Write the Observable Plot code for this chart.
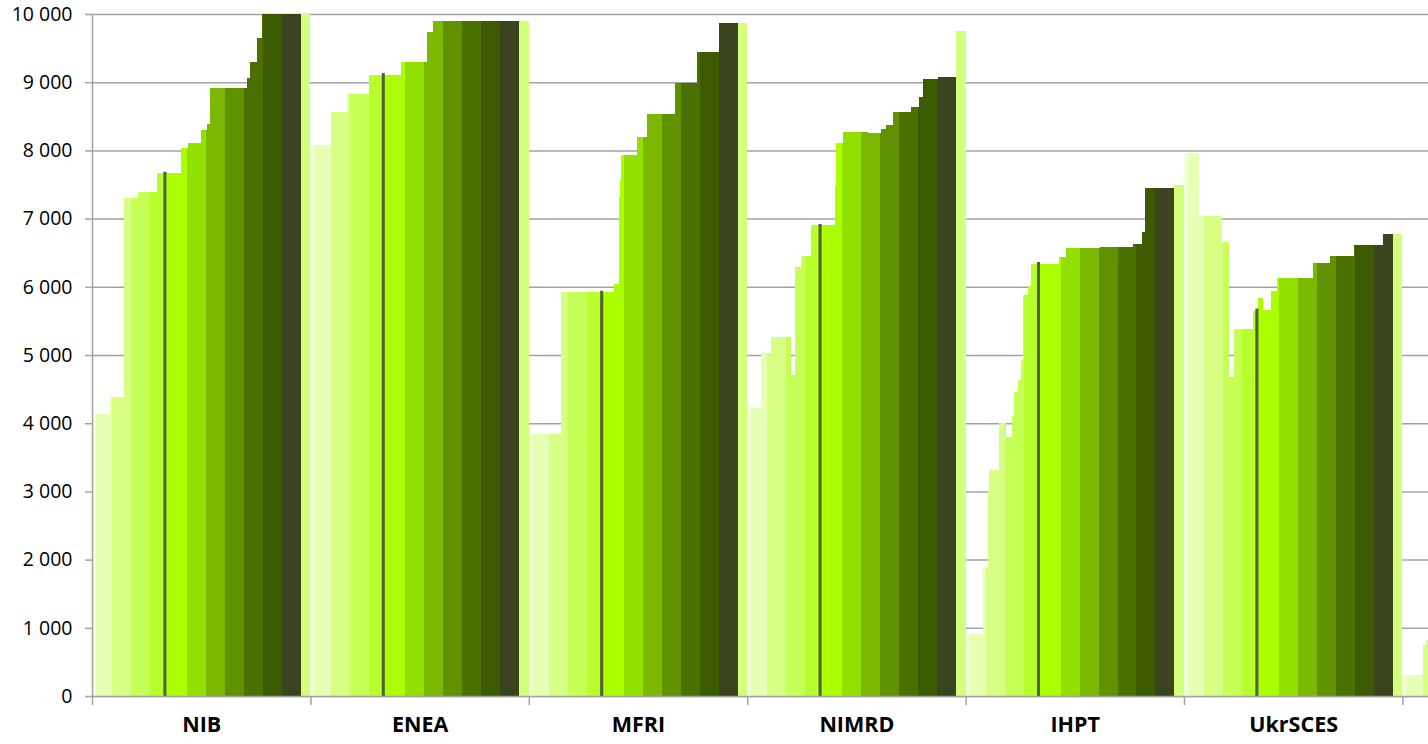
<!DOCTYPE html>
<html>
<head>
<meta charset="utf-8">
<script src="https://cdn.jsdelivr.net/npm/d3@7"></script>
<script src="https://cdn.jsdelivr.net/npm/@observablehq/plot@0.6"></script>
<style>
  html, body { margin: 0; padding: 0; background: #ffffff; }
  #chart svg { display: block; }
</style>
</head>
<body>
<div id="chart"></div>
<script>
// ---------- data ----------
const groupNames = ["NIB", "ENEA", "MFRI", "NIMRD", "IHPT", "UkrSCES"];

// each group: the unit position where a new value begins, and that value
const nibStarts   = [0, 15, 27, 39, 55, 75, 81, 92, 97, 99, 131, 133, 139, 143];
const nibValues   = [4130, 4380, 7300, 7385, 7669, 8035, 8104, 8295, 8392, 8915, 9057, 9290, 9643, 10000];

const eneaStarts  = [0, 17, 32, 49, 76, 98, 103];
const eneaValues  = [8084, 8568, 8823, 9105, 9296, 9736, 9902];

const mfriStarts  = [0, 27, 72, 76, 77, 78, 91, 100, 123, 142, 160];
const mfriValues  = [3840, 5924, 6041, 7321, 7566, 7928, 8201, 8529, 8993, 9448, 9873];

const nimrdStarts = [0, 4, 12, 20, 37, 40, 45, 54, 74, 75, 81, 102, 113, 117, 123, 138, 145, 148, 161, 176];
const nimrdValues = [4270, 4230, 5025, 5260, 4707, 6295, 6452, 6902, 7493, 8104, 8270, 8255, 8310, 8368, 8568, 8641, 8788, 9047, 9081, 9755];

const ihptStarts  = [0, 15, 19, 20, 28, 34, 39, 41, 44, 47, 48, 53, 55, 79, 85, 113, 141, 149, 151, 176];
const ihptValues  = [915, 1882, 3022, 3310, 4000, 3791, 4105, 4460, 4627, 4931, 5880, 6013, 6337, 6442, 6562, 6588, 6625, 6808, 7456, 7500];

const ukrStarts   = [0, 13, 32, 38, 42, 58, 62, 67, 73, 78, 109, 123, 143, 168];
const ukrValues   = [7964, 7038, 6661, 4677, 5376, 5651, 5830, 5663, 5938, 6123, 6350, 6446, 6619, 6781];

// seventh group, only its beginning is visible at the right edge
const nextStarts  = [0, 17, 20];
const nextValues  = [308, 748, 820];

// dark marker bar inside each group (height)
const markerValues = [7688, 9135, 5943, 6921, 6363, 5681];

// colour periods inside each group (unit where each period begins)
const periodStarts = [0, 3, 17, 33, 49, 60, 80, 96, 112, 128, 144, 160, 176];
const periodColors = ["#f2ffd8", "#e6ffb4", "#d6ff84", "#c6ff56", "#b6ff2c", "#aaff00",
                      "#92e000", "#7cb800", "#609200", "#4a7000", "#3c5a00", "#3a4520", "#d4ff7c"];

const yTicks = [0, 1000, 2000, 3000, 4000, 5000, 6000, 7000, 8000, 9000, 10000];

// ---------- build marks ----------
const UNITS = 184;          // units per group
const MARKER_AT = 61;       // unit of the marker bar inside a group
const allStarts = [nibStarts, eneaStarts, mfriStarts, nimrdStarts, ihptStarts, ukrStarts, nextStarts];
const allValues = [nibValues, eneaValues, mfriValues, nimrdValues, ihptValues, ukrValues, nextValues];
const groupLengths = [UNITS, UNITS, UNITS, UNITS, UNITS, UNITS, 22];

const segments = [];
allStarts.forEach((starts, g) => {
  const values = allValues[g];
  let cur = null;
  for (let u = 0; u < groupLengths[g]; u++) {
    let r = 0; while (r + 1 < starts.length && starts[r + 1] <= u) r++;
    let b = 0; while (b + 1 < periodStarts.length && periodStarts[b + 1] <= u) b++;
    const v = values[r], c = periodColors[b];
    if (cur && cur.y === v && cur.fill === c) cur.x2 = g * UNITS + u + 1;
    else { cur = {x1: g * UNITS + u, x2: g * UNITS + u + 1, y: v, fill: c}; segments.push(cur); }
  }
});

const markers = markerValues.map((v, i) => ({x: i * UNITS + MARKER_AT, v}));
const boundaries = d3.range(0, 7).map(i => i * UNITS);
const fmt = d => d3.format(",")(d).replace(/,/g, " ");
const gray = "#a3a3a3";

const chart = Plot.plot({
  width: 1428,
  height: 744,
  marginLeft: 92,
  marginRight: 0,
  marginTop: 14,
  marginBottom: 48,
  x: {domain: [0, 1125.6], axis: null},
  y: {domain: [0, 10000], axis: null},
  color: {type: "identity"},
  style: {fontFamily: "'Open Sans', sans-serif", background: "#ffffff", color: "#000000"},
  marks: [
    Plot.gridY(yTicks, {stroke: gray, strokeOpacity: 1, strokeWidth: 1.5}),
    Plot.rectY(segments, {x1: "x1", x2: "x2", y: "y", fill: "fill", clip: true, shapeRendering: "crispEdges"}),
    Plot.ruleX(markers, {x: "x", y1: 0, y2: "v", stroke: "#535e3a", strokeWidth: 3}),
    Plot.ruleX([0], {stroke: gray, strokeWidth: 1.5}),
    Plot.ruleY([0], {stroke: gray, strokeWidth: 1.5}),
    Plot.axisY(yTicks, {tickSize: 7, tickPadding: 13, tickFormat: fmt, fontSize: 19.5, stroke: gray, strokeWidth: 1.5}),
    Plot.axisX(boundaries, {tickSize: 9, tickFormat: () => "", stroke: gray, strokeWidth: 1.5}),
    Plot.text(groupNames, {x: (d, i) => i * UNITS + UNITS / 2, frameAnchor: "bottom", dy: 35,
      fontWeight: "bold", fontSize: 21.5, fill: "#000000"})
  ]
});
document.getElementById("chart").appendChild(chart);
</script>
</body>
</html>
